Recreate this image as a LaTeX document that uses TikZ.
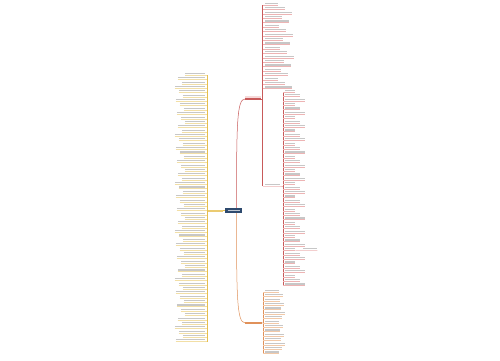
\documentclass[tikz,border=0pt]{standalone}
\usetikzlibrary{positioning}
\definecolor{rootblue}{HTML}{2E4A6E}
\definecolor{redline}{HTML}{C85A5A}
\definecolor{redsoft}{HTML}{EDB4B4}
\definecolor{yellowline}{HTML}{E6BE4E}
\definecolor{yellowsoft}{HTML}{F2DFA6}
\definecolor{orangeline}{HTML}{E0915A}
\definecolor{orangesoft}{HTML}{F2C9A8}
\begin{document}
\begin{tikzpicture}[x=1pt,y=-1pt,font=\tiny]
            \tikzstyle{leaf}=[inner xsep=0,inner ysep=0.9pt,text=black!22]
            \tikzstyle{red leaf}=[draw=redsoft,line width=0.4pt]
            \tikzstyle{yellow leaf}=[draw=yellowsoft,line width=0.4pt]
            \tikzstyle{orange leaf}=[draw=orangesoft,line width=0.4pt]
            \useasboundingbox[fill=white] (0,0) rectangle (500,360);
            % main topic and the three branches
            \node (root) [fill=rootblue,minimum width=17pt,minimum height=5pt,inner sep=0] at (233.5,210.5) {\color{white!70!rootblue}\rule{12pt}{1.2pt}};
            \node (top) [fill=redsoft!50,minimum width=16pt,minimum height=2.5pt,inner sep=0,anchor=south west] at (245,99) {};
            \node (left) [fill=yellowline!80,minimum width=15pt,minimum height=2pt,inner sep=0,anchor=east] at (223,210.5) {};
            \node (bottom) [fill=orangeline,minimum width=17pt,minimum height=2pt,inner sep=0,anchor=south west] at (245,324) {};
            \draw[redline,line width=1.1pt] (top.south west) -- (top.south east);
            \draw[redline,line width=0.5pt] ([xshift=3pt]root.north) .. controls +(0,-85) and +(-8,0) .. (top.south west);
            \draw[orangeline,line width=0.5pt] ([xshift=3pt]root.south) .. controls +(0,85) and +(-8,0) .. (bottom.west);
            \draw[yellowline,line width=0.6pt] (root.west) -- (left.east);
            % red branch: first spine
            \coordinate (s1top) at (262.5,5);
            \coordinate (s1bot) at (262.5,186);
            \draw[redline,line width=0.7pt] (s1top) -- (s1bot);
            \draw[redline,line width=0.7pt] (top.south east) -- (262.5,99);
            \foreach \i in {0,...,19}{
              \pgfmathsetmacro\w{13+mod(\i*7,17)}
              \node (a\i) [leaf,anchor=south west] at (265,5+\i*4.4) {\rule{\w pt}{1.1pt}};
              \draw[red leaf] (262.5,5+\i*4.4) -- (a\i.south east);
            }
            \node (mid) [leaf,anchor=south west] at (265,186) {\rule{15pt}{1.1pt}};
            \draw[red leaf] (s1bot) -- (mid.south east) -- (283,186);
            % red branch: second spine
            \coordinate (s2top) at (283,92);
            \coordinate (s2bot) at (283,285.6);
            \draw[redline,line width=0.7pt] (s2top) -- (s2bot);
            \foreach \i in {0,...,44}{
              \pgfmathsetmacro\w{10+mod(\i*5,15)}
              \node (b\i) [leaf,anchor=south west] at (285,92+\i*4.4) {\rule{\w pt}{1.1pt}};
              \draw[red leaf] (283,92+\i*4.4) -- (b\i.south east);
            }
            \node (far) [leaf,anchor=south west] at (303,250.4) {\rule{14pt}{1.1pt}};
            \draw[red leaf] (b36.south east) -- (far.south west) -- (far.south east);
            % yellow branch
            \coordinate (s3top) at (207,75);
            \coordinate (s3bot) at (207,341.5);
            \draw[yellowline,line width=0.7pt] (s3top) -- (s3bot);
            \draw[yellowline,line width=0.6pt] (left.west) -- (207,210.5);
            \foreach \i in {0,...,61}{
              \pgfmathsetmacro\w{20+mod(\i*7,11)}
              \node (c\i) [leaf,anchor=south east] at (205,75+\i*4.37) {\rule{\w pt}{1.1pt}};
              \draw[yellow leaf] (c\i.south west) -- (207,75+\i*4.37);
            }
            % orange branch
            \coordinate (s4top) at (263,292);
            \coordinate (s4bot) at (263,353.6);
            \draw[orangeline,line width=0.7pt] (s4top) -- (s4bot);
            \draw[orangeline,line width=0.7pt] (bottom.east) -- (263,323);
            \foreach \i in {0,...,14}{
              \pgfmathsetmacro\w{14+mod(\i*4,7)}
              \node (d\i) [leaf,anchor=south west] at (265,292+\i*4.4) {\rule{\w pt}{1.1pt}};
              \draw[orange leaf] (263,292+\i*4.4) -- (d\i.south east);
            }
          \end{tikzpicture}
\end{document}
